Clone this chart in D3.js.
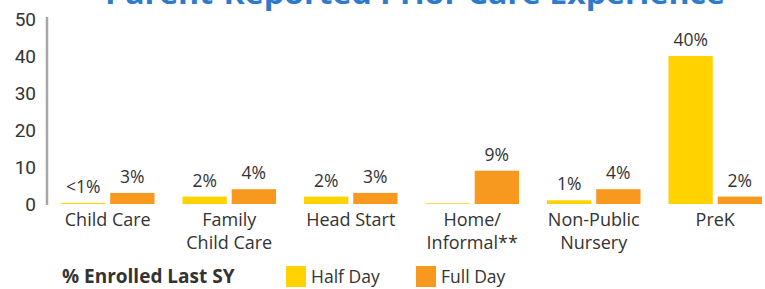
<!DOCTYPE html>
<html><head><meta charset="utf-8">
<script src="https://cdn.jsdelivr.net/npm/d3@7"></script>
<style>body{margin:0;background:#fff}svg{display:block}</style>
</head><body>
<script>
const categories = [["Child Care"],["Family","Child Care"],["Head Start"],["Home/","Informal**"],["Non-Public","Nursery"],["PreK"]];
const halfDay = [0.3, 2, 2, 0.2, 1, 40];
const fullDay = [3, 4, 3, 9, 4, 2];
const halfLabels = ["<1%","2%","2%","","1%","40%"];
const fullLabels = ["3%","4%","3%","9%","4%","2%"];
const yTicks = [0,10,20,30,40,50];
const seriesNames = ["Half Day","Full Day"];
const colors = ["#FFD200","#F7981F"];
const title = "Parent-Reported Prior Care Experience";
const legendTitle = "% Enrolled Last SY";

const W=765,H=289;
const svg=d3.select("body").append("svg").attr("width",W).attr("height",H);
const font="'Open Sans', sans-serif";

svg.append("text").attr("x",415).attr("y",4).attr("text-anchor","middle")
  .attr("font-family",font).attr("font-weight","bold").attr("font-size",29)
  .attr("textLength",620).attr("lengthAdjust","spacingAndGlyphs")
  .attr("fill","#2E7BCB").text(title);

const y=d3.scaleLinear().domain([0,50]).range([204,19]);
const x=d3.scaleBand().domain(d3.range(categories.length)).range([47,776]).paddingInner(0).paddingOuter(0);
const xs=d3.scaleBand().domain([0,1]).range([14,x.bandwidth()-14]).paddingInner(0.1);

// y axis
const ya=svg.append("g").attr("transform","translate(47,0)")
  .call(d3.axisLeft(y).tickValues(yTicks).tickSize(0).tickPadding(11));
ya.select(".domain").attr("stroke","#a6a6a6").attr("stroke-width",2.5).attr("d","M0,17V205");
ya.selectAll("text").attr("font-family","Roboto, sans-serif").attr("font-size",19).attr("fill","#333")
  .attr("dy","0.35em");

const series=[halfDay,fullDay], labels=[halfLabels,fullLabels];
series.forEach((vals,s)=>{
  svg.append("g").selectAll("rect").data(vals).join("rect")
    .attr("x",(d,i)=>x(i)+xs(s)).attr("width",xs.bandwidth())
    .attr("y",d=>y(d)).attr("height",d=>y(0)-y(d)).attr("fill",colors[s]);
  svg.append("g").selectAll("text").data(vals).join("text")
    .attr("x",(d,i)=>x(i)+xs(s)+xs.bandwidth()/2).attr("y",d=>y(d)-10)
    .attr("text-anchor","middle").attr("font-family",font).attr("font-size",17.5).attr("fill","#333")
    .text((d,i)=>labels[s][i]);
});

// category labels
const cg=svg.append("g");
categories.forEach((lines,i)=>{
  const t=cg.append("text").attr("x",x(i)+x.bandwidth()/2).attr("y",226).attr("text-anchor","middle")
    .attr("font-family",font).attr("font-size",18).attr("fill","#333");
  lines.forEach((l,j)=>t.append("tspan").attr("x",x(i)+x.bandwidth()/2).attr("y",226+j*23).text(l));
});

// legend
svg.append("text").attr("x",62).attr("y",283).attr("font-family",font).attr("font-weight","bold")
  .attr("font-size",19).attr("fill","#333").text(legendTitle);
const lx=[286,416];
seriesNames.forEach((n,s)=>{
  svg.append("rect").attr("x",lx[s]).attr("y",266).attr("width",20).attr("height",21).attr("fill",colors[s]);
  svg.append("text").attr("x",lx[s]+25).attr("y",283).attr("font-family",font).attr("font-size",17.5)
    .attr("fill","#333").text(n);
});
</script>
</body></html>
